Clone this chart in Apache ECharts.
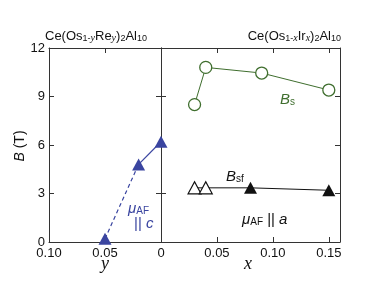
<!DOCTYPE html>
<html><head><meta charset="utf-8">
<script src="https://cdn.jsdelivr.net/npm/echarts@6/dist/echarts.min.js"></script>
<style>html,body{margin:0;padding:0;background:#fff}#c{width:382px;height:282px}</style>
</head><body><div id="c"></div>
<script>
// ---- data ----
const yTickValues = [0, 3, 6, 9, 12];
const leftXTickValues = [0.10, 0.05, 0];
const leftXTickLabels = ['0.10', '0.05', '0'];
const rightXTickValues = [0.05, 0.10, 0.15];
const rightXTickLabels = ['0.05', '0.10', '0.15'];

// Ce(Os1-yRey)2Al10, mu_AF || c  (y, B)
const reY = [0.05, 0.02, 0];
const reB = [0.2, 4.8, 6.2];

// Ce(Os1-xIrx)2Al10, Bs (x, B)
const bsX = [0.03, 0.04, 0.09, 0.15];
const bsB = [8.5, 10.8, 10.45, 9.4];

// Bsf open triangles (x, B)
const bsfOpenX = [0.03, 0.04];
const bsfOpenB = [3.35, 3.35];
// Bsf filled triangles (x, B)
const bsfFillX = [0.08, 0.15];
const bsfFillB = [3.35, 3.2];

const BLUE = '#3a45a0', GREEN = '#3f6e2e', AX = '#333';
const SANS = '"Liberation Sans", Arial, sans-serif';
const SERIF = '"Liberation Serif", "Times New Roman", serif';

const pairs = (xs, ys) => xs.map((x, i) => [x, ys[i]]);
const lookup = (vals, labs) => v => {
  const k = Math.round(v * 1000);
  const i = vals.findIndex(t => Math.round(t * 1000) === k);
  return i >= 0 ? labs[i] : '';
};

const tickCfg = {show: true, inside: true, length: 5, lineStyle: {color: AX, width: 1}};
const lineCfg = {show: true, onZero: false, lineStyle: {color: AX, width: 1}};

function xAxisPair(gi, min, max, inverse, fmt) {
  return [
    {gridIndex: gi, type: 'value', min, max, interval: 0.05, inverse, position: 'bottom',
     axisLine: lineCfg, axisTick: tickCfg, splitLine: {show: false},
     axisLabel: {show: true, margin: 5, color: '#111', fontSize: 13, fontFamily: SANS, formatter: fmt,
                 showMinLabel: true, showMaxLabel: true}},
    {gridIndex: gi, type: 'value', min, max, interval: 0.05, inverse, position: 'top',
     axisLine: lineCfg, axisTick: tickCfg, splitLine: {show: false}, axisLabel: {show: false}}
  ];
}
function yAxisPair(gi, showLabel) {
  return [
    {gridIndex: gi, type: 'value', min: 0, max: 12, interval: 3, position: 'left',
     axisLine: lineCfg, axisTick: tickCfg, splitLine: {show: false},
     axisLabel: {show: showLabel, margin: 4, color: '#111', fontSize: 13, fontFamily: SANS,
                 formatter: v => yTickValues.includes(v) ? String(v) : ''}},
    {gridIndex: gi, type: 'value', min: 0, max: 12, interval: 3, position: 'right',
     axisLine: lineCfg, axisTick: tickCfg, splitLine: {show: false}, axisLabel: {show: false}}
  ];
}

const sub = (fs) => ({fontSize: fs, fontFamily: SANS, lineHeight: fs, padding: [fs + 1, 0, 0, 0], verticalAlign: 'bottom'});
const subI = (fs, fam) => Object.assign(sub(fs), {fontStyle: 'italic', fontFamily: fam || SERIF});

const chart = echarts.init(document.getElementById('c'), null, {renderer: 'canvas'});
chart.setOption({
  animation: false,
  backgroundColor: '#fff',
  grid: [
    {left: 49, top: 48, width: 112, height: 194},
    {left: 161, top: 48, width: 179, height: 194}
  ],
  xAxis: [
    ...xAxisPair(0, 0, 0.1, true, lookup(leftXTickValues, leftXTickLabels)),
    ...xAxisPair(1, 0, 0.16, false, lookup(rightXTickValues, rightXTickLabels))
  ],
  yAxis: [...yAxisPair(0, true), ...yAxisPair(1, false)],
  series: [
    {type: 'line', xAxisIndex: 0, yAxisIndex: 0, data: pairs(reY.slice(0, 2), reB.slice(0, 2)),
     showSymbol: false, lineStyle: {color: BLUE, width: 1.2, type: [4, 3]}, z: 2},
    {type: 'line', xAxisIndex: 0, yAxisIndex: 0, data: pairs(reY.slice(1), reB.slice(1)),
     showSymbol: false, lineStyle: {color: BLUE, width: 1.2}, z: 2},
    {type: 'scatter', xAxisIndex: 0, yAxisIndex: 0, data: pairs(reY, reB),
     symbol: 'triangle', symbolSize: [13, 12], itemStyle: {color: BLUE, opacity: 1}, z: 3},
    {type: 'line', xAxisIndex: 2, yAxisIndex: 2, data: pairs(bsX, bsB),
     symbol: 'circle', symbolSize: 12, showAllSymbol: true,
     lineStyle: {color: GREEN, width: 1},
     itemStyle: {color: '#fff', borderColor: GREEN, borderWidth: 1.3}, z: 3},
    {type: 'line', xAxisIndex: 2, yAxisIndex: 2,
     data: pairs(bsfOpenX.concat(bsfFillX), bsfOpenB.concat(bsfFillB)),
     showSymbol: false, lineStyle: {color: '#111', width: 1}, z: 2},
    {type: 'scatter', xAxisIndex: 2, yAxisIndex: 2, data: pairs(bsfOpenX, bsfOpenB),
     symbol: 'triangle', symbolSize: [13, 12],
     itemStyle: {color: '#fff', borderColor: '#111', borderWidth: 1.2, opacity: 1}, z: 3},
    {type: 'scatter', xAxisIndex: 2, yAxisIndex: 2, data: pairs(bsfFillX, bsfFillB),
     symbol: 'triangle', symbolSize: [13, 12], itemStyle: {color: '#111', opacity: 1}, z: 3}
  ],
  graphic: [
    {type: 'text', left: 45, top: 22, style: {
      text: '{m|Ce(Os}{s|1-}{si|y}{m|Re}{si|y}{m|)}{s|2}{m|Al}{s|10}',
      rich: {m: {fontSize: 13, fontFamily: SANS, lineHeight: 14, fill: '#111'}, s: sub(9), si: subI(10)}, fill: '#111'}},
    {type: 'text', right: 41, top: 22, style: {
      text: '{m|Ce(Os}{s|1-}{si|x}{m|Ir}{si|x}{m|)}{s|2}{m|Al}{s|10}',
      rich: {m: {fontSize: 13, fontFamily: SANS, lineHeight: 14}, s: sub(9), si: subI(10)}, fill: '#111'}},
    {type: 'text', left: 280, top: 86, style: {
      text: '{b|B}{s|s}', fill: GREEN,
      rich: {b: {fontSize: 15, fontStyle: 'italic', fontFamily: SANS, lineHeight: 15}, s: sub(10)}}},
    {type: 'text', left: 226, top: 163, style: {
      text: '{b|B}{s|sf}', fill: '#111',
      rich: {b: {fontSize: 15, fontStyle: 'italic', fontFamily: SANS, lineHeight: 15}, s: sub(10)}}},
    {type: 'text', left: 242, top: 206, style: {
      text: '{b|\u03bc}{s|AF}{m| || }{i|a}', fill: '#111',
      rich: {b: {fontSize: 15, fontStyle: 'italic', fontFamily: SANS, lineHeight: 15},
             s: sub(10), m: {fontSize: 15, fontFamily: SANS, lineHeight: 15},
             i: {fontSize: 15, fontStyle: 'italic', fontFamily: SANS, lineHeight: 15}}}},
    {type: 'text', left: 128, top: 195, style: {
      text: '{b|\u03bc}{s|AF}', fill: BLUE,
      rich: {b: {fontSize: 15, fontStyle: 'italic', fontFamily: SANS, lineHeight: 15}, s: sub(10)}}},
    {type: 'text', left: 134, top: 216, style: {
      text: '{m|||}{i| c}', fill: BLUE,
      rich: {m: {fontSize: 15, fontFamily: SANS, lineHeight: 15},
             i: {fontSize: 15, fontStyle: 'italic', fontFamily: SANS, lineHeight: 15}}}},
    {type: 'text', x: 20, y: 146, rotation: Math.PI / 2, style: {
      text: '{b|B}{m| (T)}', fill: '#111', align: 'center', verticalAlign: 'middle',
      rich: {b: {fontSize: 14, fontStyle: 'italic', fontFamily: SANS}, m: {fontSize: 14, fontFamily: SANS}}}},
    {type: 'text', x: 105, y: 264, style: {text: 'y', fill: '#111', align: 'center', verticalAlign: 'middle',
      fontSize: 18, fontStyle: 'italic', fontFamily: SERIF}},
    {type: 'text', x: 248, y: 264, style: {text: 'x', fill: '#111', align: 'center', verticalAlign: 'middle',
      fontSize: 18, fontStyle: 'italic', fontFamily: SERIF}}
  ]
});
</script></body></html>
